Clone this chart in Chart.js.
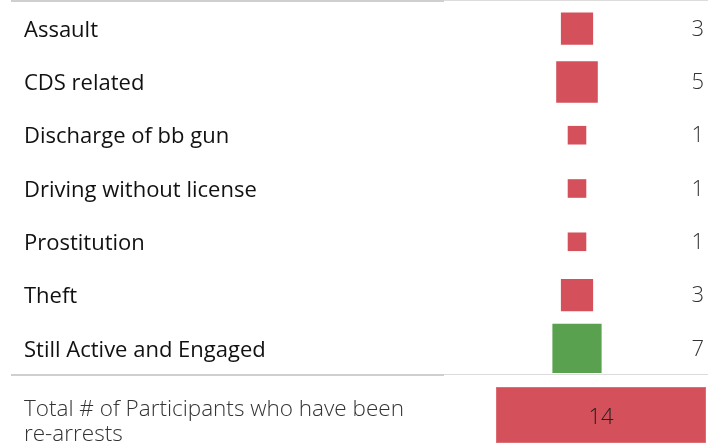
<!DOCTYPE html>
<html lang="en">
<head>
    <meta charset="UTF-8">
    <title>Re-arrests</title>
    <script src="https://cdn.jsdelivr.net/npm/chart.js"></script>
    <style>
        body {
            margin: 0;
            background: #fff;
            font-family: 'Open Sans', sans-serif;
        }
        .wrap {
            position: relative;
            width: 708px;
            height: 443px;
            overflow: hidden;
        }
        .rows {
            position: absolute;
            left: 0;
            top: 1px;
            width: 708px;
            height: 374px;
        }
        .total {
            position: absolute;
            left: 0;
            top: 376px;
            width: 708px;
            height: 67px;
        }
        .rule {
            position: absolute;
            left: 11px;
            width: 697px;
            height: 1px;
            background: #dcdcdc;
        }
        .rule .dark {
            position: absolute;
            left: 0;
            top: 0;
            width: 433px;
            height: 2px;
            background: #cfcfcf;
        }
    </style>
</head>
<body>
<div class="wrap">
    <div class="rule" style="top:0"><div class="dark"></div></div>
    <div class="rows"><canvas id="rowsChart"></canvas></div>
    <div class="rule" style="top:374px"><div class="dark"></div></div>
    <div class="total"><canvas id="totalChart"></canvas></div>
</div>

<script>
const categories = ['Assault', 'CDS related', 'Discharge of bb gun', 'Driving without license', 'Prostitution', 'Theft', 'Still Active and Engaged'];
const counts = [3, 5, 1, 1, 1, 3, 7];
const markColors = ['#d4505a', '#d4505a', '#d4505a', '#d4505a', '#d4505a', '#d4505a', '#59a14f'];

const totalLabel = ['Total # of Participants who have been', 're-arrests'];
const totalValue = [14];

// square side grows with sqrt of the count (area encodes the value)
function sideFor(v) {
    return 18.6 * Math.sqrt(v);
}

// no extra room above/below for the first and last tick label
function fitLeft(width) {
    return s => {
        s.width = width;
        s.paddingTop = 0;
        s.paddingBottom = 0;
    };
}

const valueText = {
    id: 'valueText',
    afterDatasetsDraw(chart) {
        const ctx = chart.ctx;
        const meta = chart.getDatasetMeta(0);
        ctx.save();
        ctx.fillStyle = '#333';
        ctx.font = '300 22px "Open Sans", sans-serif';
        ctx.textAlign = 'right';
        ctx.textBaseline = 'middle';
        meta.data.forEach((pt, i) => {
            ctx.fillText(String(counts[i]), chart.width - 4, pt.y + 1);
        });
        ctx.restore();
    }
};

new Chart(document.getElementById('rowsChart'), {
    type: 'scatter',
    data: {
        datasets: [{
            data: categories.map(c => ({x: 0, y: c})),
            pointStyle: 'rect',
            pointRadius: ctx => sideFor(counts[ctx.dataIndex]) / Math.SQRT2,
            pointHoverRadius: ctx => sideFor(counts[ctx.dataIndex]) / Math.SQRT2,
            pointBorderWidth: 0,
            backgroundColor: markColors,
            borderColor: markColors
        }]
    },
    options: {
        responsive: true,
        maintainAspectRatio: false,
        animation: false,
        layout: {autoPadding: false, padding: {left: 24, right: 0, top: 1, bottom: 0}},
        plugins: {legend: {display: false}, tooltip: {enabled: false}},
        scales: {
            x: {type: 'linear', min: -1, max: 1, display: false},
            y: {
                type: 'category',
                labels: categories,
                offset: true,
                grid: {display: false},
                border: {display: false},
                afterFit: fitLeft(422),
                ticks: {
                    crossAlign: 'far',
                    labelOffset: 2,
                    color: '#111',
                    font: {family: 'Open Sans', size: 22, weight: 500}
                }
            }
        }
    },
    plugins: [valueText]
});

const barText = {
    id: 'barText',
    afterDatasetsDraw(chart) {
        const ctx = chart.ctx;
        const bar = chart.getDatasetMeta(0).data[0];
        ctx.save();
        ctx.fillStyle = '#222';
        ctx.font = '300 22px "Open Sans", sans-serif';
        ctx.textAlign = 'center';
        ctx.textBaseline = 'middle';
        ctx.fillText(String(totalValue[0]), (bar.base + bar.x) / 2, 42);
        ctx.restore();
    }
};

new Chart(document.getElementById('totalChart'), {
    type: 'bar',
    data: {
        labels: [totalLabel],
        datasets: [{
            data: totalValue,
            backgroundColor: '#d4505a',
            borderColor: '#e07a80',
            borderWidth: 1,
            borderSkipped: false,
            barPercentage: 1,
            categoryPercentage: 1
        }]
    },
    options: {
        indexAxis: 'y',
        responsive: true,
        maintainAspectRatio: false,
        animation: false,
        layout: {padding: {left: 24, right: 2, top: 11, bottom: 0}},
        plugins: {legend: {display: false}, tooltip: {enabled: false}},
        scales: {
            x: {min: 0, max: totalValue[0], display: false},
            y: {
                grid: {display: false},
                border: {display: false},
                afterFit: fitLeft(472),
                ticks: {
                    crossAlign: 'far',
                    labelOffset: 7,
                    color: '#333',
                    font: {family: 'Open Sans', size: 22.5, weight: 300, lineHeight: 1.1}
                }
            }
        }
    },
    plugins: [barText]
});
</script>
</body>
</html>
